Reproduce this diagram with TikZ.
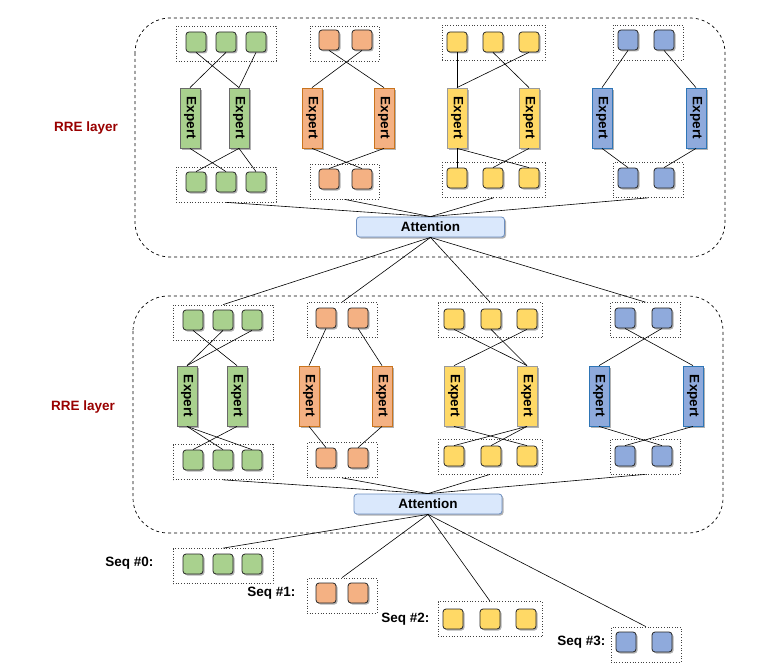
\documentclass[tikz,border=0pt]{standalone}
\usepackage{fontspec}
\setmainfont{Liberation Sans}
\usepackage{graphicx}
\usetikzlibrary{positioning,shadows}

\definecolor{grnfill}{HTML}{A9D18E}
\definecolor{grnline}{HTML}{6A6A6A}
\definecolor{orgfill}{HTML}{F4B183}
\definecolor{orgline}{HTML}{C9741E}
\definecolor{ylwfill}{HTML}{FFD966}
\definecolor{ylwline}{HTML}{9A9A9A}
\definecolor{blufill}{HTML}{8FAADC}
\definecolor{bluline}{HTML}{2E75B6}
\definecolor{attfill}{HTML}{DAE8FC}
\definecolor{attline}{HTML}{6C8EBF}
\definecolor{tagred}{HTML}{990000}

\begin{document}
\begin{tikzpicture}[
  x=1pt, y=-1pt,
  font=\fontsize{13.5}{15}\selectfont\bfseries,
  layer/.style={draw,dashed,line width=0.7pt,rounded corners=35pt},
  grp/.style={rectangle,draw=black!75,dotted,line width=0.7pt,minimum height=35pt,inner sep=0pt},
  tok/.style={rectangle,rounded corners=3pt,minimum size=20pt,inner sep=0pt,draw=black!85,line width=0.8pt,
    drop shadow={shadow xshift=1.5pt,shadow yshift=-1.5pt,opacity=0.3,fill=black}},
  expert/.style={rectangle,minimum width=20pt,minimum height=60pt,inner sep=0pt,line width=0.8pt,
    drop shadow={shadow xshift=1.5pt,shadow yshift=-1.5pt,opacity=0.3,fill=black}},
  attn/.style={rectangle,rounded corners=3pt,minimum width=148pt,minimum height=20pt,inner sep=0pt,
    fill=attfill,draw=attline,line width=0.8pt,
    drop shadow={shadow xshift=1.5pt,shadow yshift=-1.5pt,opacity=0.3,fill=black}},
  link/.style={line width=0.6pt},
  tag/.style={text=tagred}
]
\useasboundingbox (0,0) rectangle (771,669);

% the two RRE layers
\draw[layer] (135,18) rectangle (725,257);
\draw[layer] (133,296) rectangle (723,533);
\node[tag] (tagU) at (86,128) {RRE layer};
\node[tag] (tagL) at (83,407) {RRE layer};

% ---- upper layer ----
% green
\node[grp,minimum width=100pt] (grnUt) at (226,43.5) {};
\foreach \x [count=\i] in {196,226,256} \node[tok,fill=grnfill] (grnUt\i) at (\x,42) {};
\node[expert,fill=grnfill,draw=grnline] (grnUe1) at (190,118) {\rotatebox{-90}{Expert}};
\node[expert,fill=grnfill,draw=grnline] (grnUe2) at (239,118) {\rotatebox{-90}{Expert}};
\node[grp,minimum width=100pt] (grnUb) at (226,184.5) {};
\foreach \x [count=\i] in {196,226,256} \node[tok,fill=grnfill] (grnUb\i) at (\x,182) {};
\foreach \a/\b in {1/2,2/1,3/2} \draw[link] (grnUt\a.south) -- (grnUe\b.north);
\foreach \a/\b in {1/2,2/1,2/3} \draw[link] (grnUe\a.south) -- (grnUb\b.north);

% orange
\node[grp,minimum width=69pt] (orgUt) at (344.5,43.5) {};
\foreach \x [count=\i] in {329,362} \node[tok,fill=orgfill] (orgUt\i) at (\x,40) {};
\node[expert,fill=orgfill,draw=orgline] (orgUe1) at (312,118) {\rotatebox{-90}{Expert}};
\node[expert,fill=orgfill,draw=orgline] (orgUe2) at (384,118) {\rotatebox{-90}{Expert}};
\node[grp,minimum width=69pt] (orgUb) at (344.5,181.5) {};
\foreach \x [count=\i] in {329,362} \node[tok,fill=orgfill] (orgUb\i) at (\x,179) {};
\foreach \a/\b in {1/2,2/1} \draw[link] (orgUt\a.south) -- (orgUe\b.north);
\foreach \a/\b in {1/2,2/1} \draw[link] (orgUe\a.south) -- (orgUb\b.north);

% yellow
\node[grp,minimum width=103pt] (ylwUt) at (493.5,42.5) {};
\foreach \x [count=\i] in {457,493,529} \node[tok,fill=ylwfill] (ylwUt\i) at (\x,42) {};
\node[expert,fill=ylwfill,draw=ylwline] (ylwUe1) at (457,118) {\rotatebox{-90}{Expert}};
\node[expert,fill=ylwfill,draw=ylwline] (ylwUe2) at (529,118) {\rotatebox{-90}{Expert}};
\node[grp,minimum width=103pt] (ylwUb) at (493.5,180) {};
\foreach \x [count=\i] in {457,493,529} \node[tok,fill=ylwfill] (ylwUb\i) at (\x,178) {};
\foreach \a/\b in {1/1,2/2,3/1} \draw[link] (ylwUt\a.south) -- (ylwUe\b.north);
\foreach \a/\b in {1/1,1/3,2/2} \draw[link] (ylwUe\a.south) -- (ylwUb\b.north);

% blue
\node[grp,minimum width=70pt] (bluUt) at (648,42.5) {};
\foreach \x [count=\i] in {628,664} \node[tok,fill=blufill] (bluUt\i) at (\x,40) {};
\node[expert,fill=blufill,draw=bluline] (bluUe1) at (602,118) {\rotatebox{-90}{Expert}};
\node[expert,fill=blufill,draw=bluline] (bluUe2) at (696,118) {\rotatebox{-90}{Expert}};
\node[grp,minimum width=70pt] (bluUb) at (648,180) {};
\foreach \x [count=\i] in {628,664} \node[tok,fill=blufill] (bluUb\i) at (\x,178) {};
\foreach \a/\b in {1/1,2/2} \draw[link] (bluUt\a.south) -- (bluUe\b.north);
\foreach \a/\b in {1/1,2/2} \draw[link] (bluUe\a.south) -- (bluUb\b.north);

\node[attn] (attU) at (430.5,227) {Attention};

% ---- lower layer ----
% green
\node[grp,minimum width=100pt] (grnLt) at (223,322.5) {};
\foreach \x [count=\i] in {193,223,252} \node[tok,fill=grnfill] (grnLt\i) at (\x,320) {};
\node[expert,fill=grnfill,draw=grnline] (grnLe1) at (187,396) {\rotatebox{-90}{Expert}};
\node[expert,fill=grnfill,draw=grnline] (grnLe2) at (237,396) {\rotatebox{-90}{Expert}};
\node[grp,minimum width=100pt] (grnLb) at (223,462) {};
\foreach \x [count=\i] in {193,223,252} \node[tok,fill=grnfill] (grnLb\i) at (\x,460) {};
\foreach \a/\b in {1/2,2/1,3/1} \draw[link] (grnLt\a.south) -- (grnLe\b.north);
\foreach \a/\b in {1/2,1/3,2/1} \draw[link] (grnLe\a.south) -- (grnLb\b.north);

% orange
\node[grp,minimum width=70pt] (orgLt) at (342,320) {};
\foreach \x [count=\i] in {326,358} \node[tok,fill=orgfill] (orgLt\i) at (\x,318) {};
\node[expert,fill=orgfill,draw=orgline] (orgLe1) at (309,396) {\rotatebox{-90}{Expert}};
\node[expert,fill=orgfill,draw=orgline] (orgLe2) at (382,396) {\rotatebox{-90}{Expert}};
\node[grp,minimum width=70pt] (orgLb) at (342,460) {};
\foreach \x [count=\i] in {326,358} \node[tok,fill=orgfill] (orgLb\i) at (\x,458) {};
\foreach \a/\b in {1/1,2/2} \draw[link] (orgLt\a.south) -- (orgLe\b.north);
\foreach \a/\b in {1/1,2/2} \draw[link] (orgLe\a.south) -- (orgLb\b.north);

% yellow
\node[grp,minimum width=104pt] (ylwLt) at (490,320) {};
\foreach \x [count=\i] in {454,491,527} \node[tok,fill=ylwfill] (ylwLt\i) at (\x,319) {};
\node[expert,fill=ylwfill,draw=ylwline] (ylwLe1) at (454,396) {\rotatebox{-90}{Expert}};
\node[expert,fill=ylwfill,draw=ylwline] (ylwLe2) at (527,396) {\rotatebox{-90}{Expert}};
\node[grp,minimum width=104pt] (ylwLb) at (490,456.5) {};
\foreach \x [count=\i] in {454,491,527} \node[tok,fill=ylwfill] (ylwLb\i) at (\x,456) {};
\foreach \a/\b in {1/2,2/2,3/1} \draw[link] (ylwLt\a.south) -- (ylwLe\b.north);
\foreach \a/\b in {1/3,2/1,2/2} \draw[link] (ylwLe\a.south) -- (ylwLb\b.north);

% blue
\node[grp,minimum width=70pt] (bluLt) at (645.5,320) {};
\foreach \x [count=\i] in {625,662} \node[tok,fill=blufill] (bluLt\i) at (\x,318) {};
\node[expert,fill=blufill,draw=bluline] (bluLe1) at (599,396) {\rotatebox{-90}{Expert}};
\node[expert,fill=blufill,draw=bluline] (bluLe2) at (693,396) {\rotatebox{-90}{Expert}};
\node[grp,minimum width=70pt] (bluLb) at (645.5,456.5) {};
\foreach \x [count=\i] in {625,662} \node[tok,fill=blufill] (bluLb\i) at (\x,456) {};
\foreach \a/\b in {1/2,2/1} \draw[link] (bluLt\a.south) -- (bluLe\b.north);
\foreach \a/\b in {1/2,2/1} \draw[link] (bluLe\a.south) -- (bluLb\b.north);

\node[attn] (attL) at (428,504) {Attention};

% ---- input sequences ----
\node[grp,minimum width=100pt] (seq0) at (223,566) {};
\foreach \x [count=\i] in {193,223,252} \node[tok,fill=grnfill] (seq0s\i) at (\x,564) {};
\node[anchor=east] (seq0l) at (157,563) {Seq \#0:};
\node[grp,minimum width=70pt] (seq1) at (342,595.5) {};
\foreach \x [count=\i] in {326,358} \node[tok,fill=orgfill] (seq1s\i) at (\x,593) {};
\node[anchor=east] (seq1l) at (299,593) {Seq \#1:};
\node[grp,minimum width=104pt] (seq2) at (490,619) {};
\foreach \x [count=\i] in {453,490,526} \node[tok,fill=ylwfill] (seq2s\i) at (\x,619) {};
\node[anchor=east] (seq2l) at (433,619) {Seq \#2:};
\node[grp,minimum width=70pt] (seq3) at (646,644.5) {};
\foreach \x [count=\i] in {626,662} \node[tok,fill=blufill] (seq3s\i) at (\x,642) {};
\node[anchor=east] (seq3l) at (609,642) {Seq \#3:};

% ---- attention links ----
\foreach \g in {grnUb,orgUb,ylwUb,bluUb} \draw[link] (\g.south) -- (attU.north);
\foreach \g in {grnLt,orgLt,ylwLt,bluLt} \draw[link] (attU.south) -- (\g.north);
\foreach \g in {grnLb,orgLb,ylwLb,bluLb} \draw[link] (\g.south) -- (attL.north);
\foreach \g in {seq0,seq1,seq2,seq3} \draw[link] (attL.south) -- (\g.north);
\end{tikzpicture}
\end{document}
